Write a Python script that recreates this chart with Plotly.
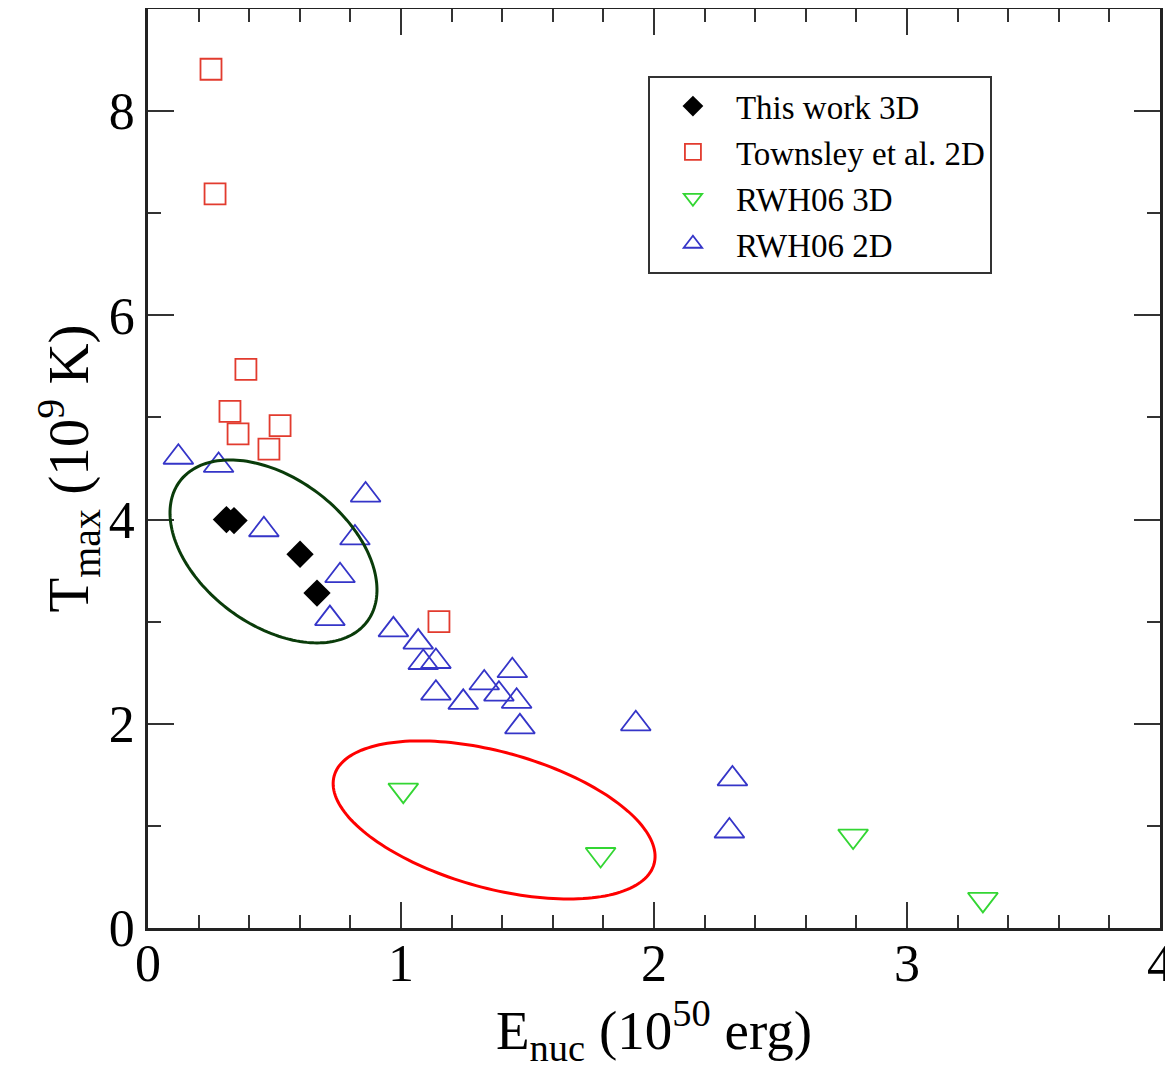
import numpy as np
import plotly.graph_objects as go

# ---- data ----
this_work_x = [0.31, 0.34, 0.601, 0.668]
this_work_y = [4.00, 3.99, 3.66, 3.28]

townsley_x = [0.249, 0.265, 0.387, 0.324, 0.356, 0.522, 0.478, 1.15]
townsley_y = [8.41, 7.19, 5.47, 5.06, 4.84, 4.92, 4.69, 3.00]

rwh3d_x = [1.009, 1.789, 2.787, 3.30]
rwh3d_y = [1.35, 0.72, 0.90, 0.28]

rwh2d_x = [0.120, 0.279, 0.860, 0.458, 0.818, 0.759, 0.719, 0.970, 1.068, 1.088,
           1.138, 1.138, 1.246, 1.329, 1.440, 1.387, 1.457, 1.470, 1.928, 2.310, 2.298]
rwh2d_y = [4.61, 4.53, 4.24, 3.90, 3.82, 3.45, 3.03, 2.92, 2.80, 2.60,
           2.61, 2.30, 2.21, 2.40, 2.52, 2.29, 2.22, 1.97, 2.00, 1.46, 0.95]

x_range = [0, 4]
y_range = [0, 9]

# ellipse annotations: (center x, center y, semi-major px, semi-minor px, angle deg, colour)
ellipses = [
    (0.496, 3.688, 117.0, 73.4, 36.8, "#0a3c0a"),
    (1.368, 1.058, 165.9, 68.1, 15.4, "#ff0000"),
]

# page body adds an 8px margin, so the figure is sized to fit the window from there
W, H = 1165, 1066
ml, mr, mt, mb = 140, 13, 1, 146
pw = W - ml - mr
ph = H - mt - mb
px_per_x = pw / (x_range[1] - x_range[0])
px_per_y = ph / (y_range[1] - y_range[0])

serif = "Liberation Serif, Times New Roman, serif"

fig = go.Figure()
fig.add_trace(go.Scatter(x=this_work_x, y=this_work_y, mode="markers", name="This work 3D",
                         marker=dict(symbol="diamond", size=21, color="black",
                                     line=dict(width=0))))
fig.add_trace(go.Scatter(x=townsley_x, y=townsley_y, mode="markers", name="Townsley et al. 2D",
                         marker=dict(symbol="square-open", size=21, color="#e23b2e",
                                     line=dict(width=1.8, color="#e23b2e"))))
fig.add_trace(go.Scatter(x=rwh3d_x, y=rwh3d_y, mode="markers", name="RWH06 3D",
                         marker=dict(symbol="triangle-down-open", size=26, color="#33d633",
                                     line=dict(width=1.8, color="#33d633"))))
fig.add_trace(go.Scatter(x=rwh2d_x, y=rwh2d_y, mode="markers", name="RWH06 2D",
                         marker=dict(symbol="triangle-up-open", size=26, color="#3535c8",
                                     line=dict(width=1.8, color="#3535c8"))))

shapes = []
t = np.linspace(0, 2 * np.pi, 181)
for cx, cy, a, b, ang, col in ellipses:
    th = np.deg2rad(ang)
    dx = a * np.cos(t) * np.cos(th) - b * np.sin(t) * np.sin(th)
    dy = a * np.cos(t) * np.sin(th) + b * np.sin(t) * np.cos(th)
    xs = cx + dx / px_per_x
    ys = cy - dy / px_per_y
    path = "M " + " L ".join(f"{x:.4f},{y:.4f}" for x, y in zip(xs, ys)) + " Z"
    shapes.append(dict(type="path", path=path, xref="x", yref="y",
                       line=dict(color=col, width=3)))

axis_common = dict(
    showgrid=False, zeroline=False, showline=True, linecolor="#222", linewidth=2.5,
    mirror="allticks", ticks="inside", ticklen=26, tickwidth=2, tickcolor="#333",
    tickfont=dict(family=serif, size=52, color="black"), automargin=False,
)

fig.update_layout(
    width=W, height=H,
    margin=dict(l=ml, r=mr, t=mt, b=mb),
    paper_bgcolor="white", plot_bgcolor="white",
    shapes=shapes,
    showlegend=True,
    legend=dict(x=0.494, y=0.927, xanchor="left", yanchor="top",
                bgcolor="white", bordercolor="#333", borderwidth=2,
                font=dict(family=serif, size=33, color="black"),
                itemwidth=76, tracegroupgap=0),
    xaxis=dict(range=x_range, dtick=1, tick0=0, ticklabelstandoff=-12,
               minor=dict(dtick=0.2, ticks="inside", ticklen=13, tickwidth=1.5, tickcolor="#333"),
               title=dict(text="E<sub>nuc</sub> (10<sup>50</sup> erg)",
                          font=dict(family=serif, size=55, color="black"), standoff=16),
               **axis_common),
    yaxis=dict(range=y_range, dtick=2, tick0=0,
               minor=dict(dtick=1, ticks="inside", ticklen=13, tickwidth=1.5, tickcolor="#333"),
               title=dict(text="T<sub>max</sub> (10<sup>9</sup> K)",
                          font=dict(family=serif, size=57, color="black"), standoff=0),
               **axis_common),
)

fig.write_html("out.html")
